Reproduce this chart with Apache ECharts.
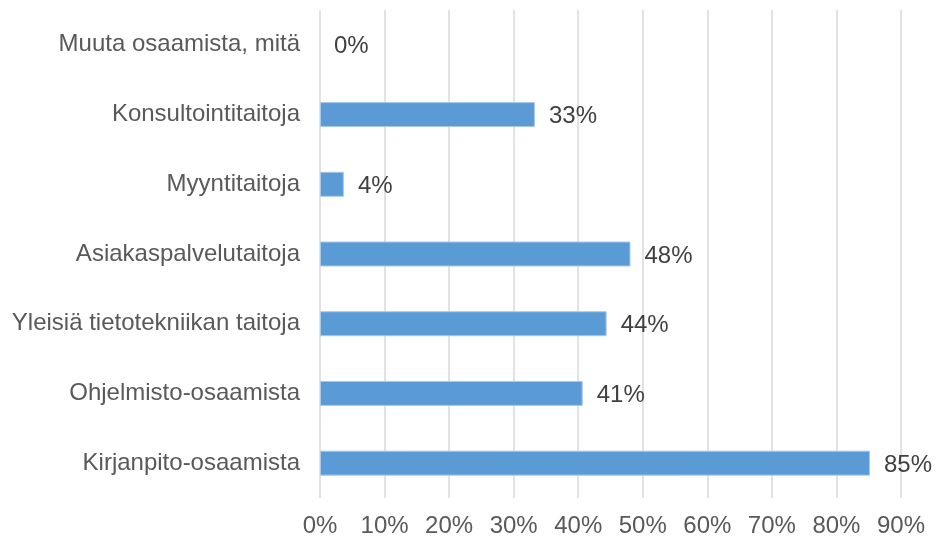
<!DOCTYPE html>
<html>
<head>
<meta charset="utf-8">
<script src="https://cdn.jsdelivr.net/npm/echarts@6/dist/echarts.min.js"></script>
<style>
  html, body { margin: 0; padding: 0; background: #fff; }
  #chart { width: 938px; height: 544px; }
</style>
</head>
<body>
<div id="chart"></div>
<script>
// categories from bottom to top
var categories = ['Kirjanpito-osaamista', 'Ohjelmisto-osaamista', 'Yleisiä tietotekniikan taitoja',
    'Asiakaspalvelutaitoja', 'Myyntitaitoja', 'Konsultointitaitoja', 'Muuta osaamista, mitä'];
var shares = [85.2, 40.7, 44.4, 48.1, 3.7, 33.3, 0];
var xTicks = [0, 10, 20, 30, 40, 50, 60, 70, 80, 90];

var myChart = echarts.init(document.getElementById('chart'));
var option = {
    animation: false,
    grid: {
        left: 320,
        right: 37,
        top: 10,
        bottom: 46
    },
    xAxis: {
        type: 'value',
        min: xTicks[0],
        max: xTicks[xTicks.length - 1],
        interval: 10,
        axisLine: { show: false },
        axisTick: { show: false },
        splitLine: {
            lineStyle: { color: '#d9d9d9', width: 1.5 }
        },
        axisLabel: {
            formatter: '{value}%',
            fontFamily: 'Liberation Sans',
            fontSize: 24,
            color: '#595959',
            margin: 16
        }
    },
    yAxis: {
        type: 'category',
        data: categories,
        axisLine: { show: false },
        axisTick: { show: false },
        axisLabel: {
            fontFamily: 'Liberation Sans',
            fontSize: 24,
            color: '#595959',
            margin: 20,
            padding: [4, 0, 0, 0]
        }
    },
    series: [{
        type: 'bar',
        // no outline on the empty bar
        data: shares.map(function (v) {
            return v === 0 ? { value: v, itemStyle: { borderWidth: 0 } } : v;
        }),
        barWidth: 25,
        itemStyle: {
            color: '#5b9bd5',
            borderColor: '#a9c9ea',
            borderWidth: 1
        },
        label: {
            show: true,
            position: 'right',
            distance: 14,
            offset: [0, 2],
            fontFamily: 'Liberation Sans',
            fontSize: 24,
            color: '#404040',
            formatter: function (p) { return Math.round(p.value) + '%'; }
        }
    }]
};
myChart.setOption(option);
</script>
</body>
</html>
